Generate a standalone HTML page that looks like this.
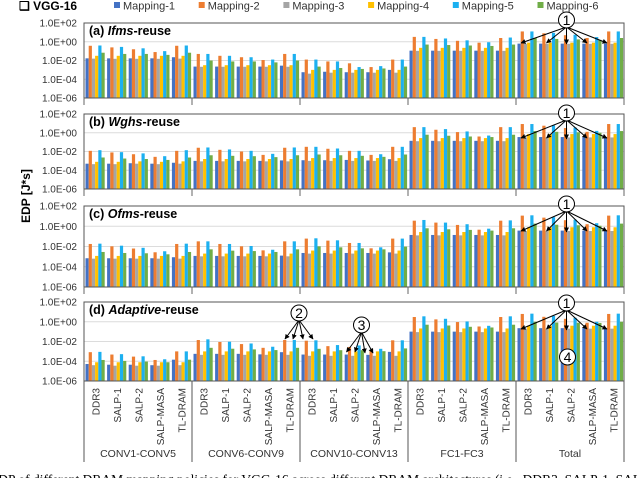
<!DOCTYPE html>
<html><head><meta charset="utf-8">
<style>
html,body{margin:0;padding:0;background:#fff;overflow:hidden}
body{width:640px;height:478px;position:relative;font-family:"Liberation Sans",sans-serif}
svg text{font-family:"Liberation Sans",sans-serif}
</style></head>
<body>
<svg id="chart" width="640" height="478" viewBox="0 0 640 478" xmlns="http://www.w3.org/2000/svg">
<g id="legend"></g>
<g id="panels"></g>
<g id="xaxis"></g>
<g id="annos"></g>
<text x="0" y="0" transform="translate(30,196) rotate(-90)" text-anchor="middle" font-size="12" font-weight="bold" fill="#000">EDP [J*s]</text>
<text x="19" y="10" font-size="12" font-weight="bold" fill="#000">❑ VGG-16</text>
<text x="-10" y="484" font-size="13.5" fill="#000" style="font-family:'Liberation Serif',serif">EDP of different DRAM mapping policies for VGG-16 across different DRAM architectures (i.e., DDR3, SALP-1, SALP-2, SALP-MASA</text>
</svg>
<script>
const NS="http://www.w3.org/2000/svg";
const groups=["CONV1-CONV5","CONV6-CONV9","CONV10-CONV13","FC1-FC3","Total"];
const archs=["DDR3","SALP-1","SALP-2","SALP-MASA","TL-DRAM"];
const mappings=["Mapping-1","Mapping-2","Mapping-3","Mapping-4","Mapping-5","Mapping-6"];
const colors=["#4472C4","#ED7D31","#A5A5A5","#FFC000","#1CB0F0","#70AD47"];
const tickLabels=["1.0E+02","1.0E+00","1.0E-02","1.0E-04","1.0E-06"];
const tickExps=[2,0,-2,-4,-6];
const panelTitles=["(a) |Ifms|-reuse","(b) |Wghs|-reuse","(c) |Ofms|-reuse","(d) |Adaptive|-reuse"];
// log10(EDP) values, 25 per mapping (5 groups x 5 archs)
const a_m1=[-1.77,-1.77,-1.77,-1.77,-1.65,-2.65,-2.65,-2.65,-2.65,-2.55,-3.25,-3.2,-3.25,-3.25,-3.0,-0.95,-0.95,-0.95,-0.95,-0.95,-0.2,-0.2,-0.2,-0.2,-0.2];
const a_m2=[-0.43,-0.6,-0.8,-1.1,-0.43,-1.3,-1.5,-1.65,-1.95,-1.3,-1.9,-2.1,-2.3,-2.7,-1.9,0.52,0.3,0.1,-0.1,0.4,1.1,0.9,0.7,0.4,1.1];
const a_m3=[-1.8,-1.82,-1.82,-1.82,-1.8,-2.67,-2.67,-2.67,-2.67,-2.67,-3.4,-3.3,-3.3,-3.3,-3.3,-0.97,-0.97,-0.97,-0.97,-0.97,-0.22,-0.22,-0.22,-0.22,-0.22];
const a_m4=[-1.5,-1.5,-1.5,-1.5,-1.5,-2.5,-2.5,-2.5,-2.5,-2.5,-3.0,-3.0,-3.0,-3.0,-3.0,-0.65,-0.65,-0.65,-0.65,-0.65,-0.1,-0.1,-0.1,-0.1,-0.1];
const a_m5=[-0.4,-0.55,-0.7,-1.0,-0.4,-1.3,-1.5,-1.65,-1.9,-1.3,-1.9,-2.1,-2.7,-2.6,-1.9,0.52,0.35,0.15,-0.05,0.45,1.1,0.95,0.75,0.5,1.1];
const a_m6=[-1.17,-1.3,-1.3,-1.4,-1.17,-2.0,-2.1,-2.1,-2.2,-2.0,-2.65,-2.8,-2.9,-2.85,-2.65,-0.3,-0.35,-0.4,-0.45,-0.3,0.4,0.3,0.25,0.2,0.4];
const b_m1=[-3.3,-3.3,-3.25,-3.3,-3.2,-3.0,-3.0,-3.0,-3.0,-2.95,-2.93,-2.93,-2.9,-2.96,-2.82,-0.86,-0.86,-0.86,-0.86,-0.86,-0.46,-0.46,-0.46,-0.46,-0.46];
const b_m2=[-1.93,-2.1,-2.29,-2.57,-1.93,-1.6,-1.82,-2.0,-2.36,-1.6,-1.5,-1.71,-1.93,-2.36,-1.5,0.6,0.32,0.07,-0.4,0.6,0.93,0.75,0.5,0.1,0.93];
const b_m3=[-3.35,-3.35,-3.3,-3.35,-3.3,-3.05,-3.05,-3.05,-3.05,-3.05,-3.0,-3.0,-3.0,-3.0,-3.0,-0.9,-0.9,-0.9,-0.9,-0.9,-0.5,-0.5,-0.5,-0.5,-0.5];
const b_m4=[-3.1,-3.1,-3.05,-3.1,-3.05,-2.8,-2.8,-2.8,-2.8,-2.8,-2.7,-2.7,-2.7,-2.7,-2.7,-0.57,-0.57,-0.57,-0.57,-0.57,-0.14,-0.14,-0.14,-0.14,-0.14];
const b_m5=[-1.86,-2.07,-2.2,-2.5,-1.86,-1.57,-1.78,-1.93,-2.25,-1.57,-1.5,-1.68,-1.93,-2.29,-1.5,0.6,0.39,0.14,-0.3,0.6,0.93,0.8,0.55,0.2,0.93];
const b_m6=[-2.64,-2.75,-2.8,-2.9,-2.64,-2.4,-2.46,-2.5,-2.6,-2.4,-2.32,-2.4,-2.46,-2.57,-2.32,-0.21,-0.32,-0.4,-0.46,-0.21,0.18,0.1,0.05,0.0,0.18];
const c_m1=[-3.16,-3.16,-3.16,-3.16,-3.06,-2.93,-2.93,-2.93,-2.93,-2.9,-2.64,-2.64,-2.64,-2.64,-2.58,-0.86,-0.86,-0.86,-0.86,-0.86,-0.43,-0.43,-0.43,-0.43,-0.43];
const c_m2=[-1.75,-1.98,-2.2,-2.57,-1.75,-1.49,-1.75,-1.98,-2.38,-1.49,-1.22,-1.42,-1.65,-2.18,-1.22,0.55,0.36,0.13,-0.34,0.55,1.05,0.85,0.6,0.2,1.05];
const c_m3=[-3.2,-3.2,-3.2,-3.2,-3.2,-2.97,-2.97,-2.97,-2.97,-2.97,-2.7,-2.7,-2.7,-2.7,-2.7,-0.9,-0.9,-0.9,-0.9,-0.9,-0.47,-0.47,-0.47,-0.47,-0.47];
const c_m4=[-2.93,-2.93,-2.93,-2.93,-2.93,-2.7,-2.7,-2.7,-2.7,-2.7,-2.4,-2.4,-2.4,-2.4,-2.4,-0.57,-0.57,-0.57,-0.57,-0.57,-0.1,-0.1,-0.1,-0.1,-0.1];
const c_m5=[-1.72,-1.92,-2.13,-2.47,-1.72,-1.49,-1.75,-1.95,-2.32,-1.49,-1.19,-1.39,-1.65,-2.08,-1.22,0.62,0.36,0.2,-0.24,0.58,1.08,0.9,0.65,0.3,1.08];
const c_m6=[-2.54,-2.64,-2.67,-2.77,-2.54,-2.28,-2.41,-2.45,-2.54,-2.28,-1.98,-2.08,-2.18,-2.28,-2.01,-0.2,-0.3,-0.36,-0.43,-0.2,0.26,0.15,0.1,0.05,0.26];
const d_m1=[-4.28,-4.35,-4.35,-4.4,-3.84,-3.25,-3.25,-3.25,-3.3,-3.08,-3.32,-3.32,-3.32,-3.35,-3.05,-1.0,-1.0,-1.0,-1.0,-1.0,-0.65,-0.65,-0.65,-0.65,-0.65];
const d_m2=[-3.08,-3.32,-3.53,-3.87,-3.0,-1.85,-2.05,-2.26,-2.64,-1.85,-1.92,-2.47,-2.55,-2.9,-1.88,0.48,0.24,-0.03,-0.48,0.48,0.79,0.5,0.3,-0.1,0.79];
const d_m3=[-4.4,-4.45,-4.45,-4.45,-4.4,-3.35,-3.35,-3.35,-3.35,-3.35,-3.45,-3.45,-3.45,-3.45,-3.45,-1.05,-1.05,-1.05,-1.05,-1.05,-0.7,-0.7,-0.7,-0.7,-0.7];
const d_m4=[-4.1,-4.1,-4.1,-4.1,-4.1,-3.0,-3.0,-3.0,-3.0,-3.0,-3.0,-3.0,-3.0,-3.0,-3.0,-0.68,-0.68,-0.68,-0.68,-0.68,-0.4,-0.4,-0.4,-0.4,-0.4];
const d_m5=[-3.05,-3.28,-3.5,-3.8,-3.0,-1.78,-2.02,-2.2,-2.53,-1.85,-1.88,-2.36,-2.4,-2.74,-1.88,0.55,0.3,0.03,-0.41,0.55,0.82,0.6,0.4,0.0,0.82];
const d_m6=[-3.87,-3.97,-4.03,-4.1,-3.84,-2.64,-2.73,-2.8,-2.87,-2.64,-2.74,-2.88,-2.88,-2.98,-2.7,-0.3,-0.38,-0.51,-0.58,-0.3,0.0,-0.08,-0.1,-0.12,0.0];
const panelData=[[a_m1,a_m2,a_m3,a_m4,a_m5,a_m6],[b_m1,b_m2,b_m3,b_m4,b_m5,b_m6],[c_m1,c_m2,c_m3,c_m4,c_m5,c_m6],[d_m1,d_m2,d_m3,d_m4,d_m5,d_m6]];

const PX0=84,PX1=624;
const panelTop=[23,114,206,302],panelBot=[98,189,287,381];
const slotW=(PX1-PX0)/25,barW=3.2;
function mk(tag,attrs,parent){const e=document.createElementNS(NS,tag);for(const k in attrs)e.setAttribute(k,attrs[k]);parent.appendChild(e);return e;}
function yScale(p,v){return panelTop[p]+(2-v)/8*(panelBot[p]-panelTop[p]);}
function xSlot(i){return PX0+i*slotW;}

// legend
const lg=document.getElementById('legend');
mappings.forEach((m,i)=>{
  const g=mk('g',{},lg);
  
  
  const x=114+i*84.7;
  mk('rect',{x:x,y:2,width:6,height:6,fill:colors[i]},g);
  mk('text',{x:x+9,y:9.5,'font-size':'11',fill:'#333'},g).textContent=m;
});

const pg=document.getElementById('panels');
panelData.forEach((series,p)=>{
  const g=mk('g',{},pg);
  
  
  // gridlines and ticks
  tickExps.forEach((e,k)=>{
    const y=yScale(p,e);
    if(k>0&&k<4){const l=mk('line',{x1:PX0,x2:PX1,y1:y,y2:y,stroke:'#dcdcdc','stroke-width':1},g);
      }
    const t=mk('text',{x:77,y:y+3.5,'text-anchor':'end','font-size':'10',fill:'#333'},g);
    
    
    t.textContent=tickLabels[k];
  });
  // bars
  series.forEach((vals,m)=>{
    vals.forEach((v,i)=>{
      const x=xSlot(i)+1.5+m*barW;
      const y=yScale(p,v);
      const r=mk('rect',{x:x.toFixed(2),y:y.toFixed(2),width:barW,height:(panelBot[p]-y).toFixed(2),fill:colors[m]},g);
      
      
    });
  });
  // frame
  const fr=mk('rect',{x:PX0,y:panelTop[p],width:PX1-PX0,height:panelBot[p]-panelTop[p],fill:'none',stroke:'#555','stroke-width':1},g);
  
  
  // group separator ticks below axis (panels a-c)
  if(p<3){for(let k=0;k<=5;k++){const x=PX0+k*108;mk('line',{x1:x,x2:x,y1:panelBot[p],y2:panelBot[p]+7,stroke:'#666','stroke-width':1},g);}}
  // title
  const parts=panelTitles[p].split('|');
  const t=mk('text',{x:89,y:panelTop[p]+12,'font-size':'12.5','font-weight':'bold',fill:'#000'},g);
  
  
  mk('tspan',{},t).textContent=parts[0];
  mk('tspan',{'font-style':'italic'},t).textContent=parts[1];
  mk('tspan',{},t).textContent=parts[2];
});

// x-axis labels
const xa=document.getElementById('xaxis');
for(let k=0;k<=5;k++){const x=PX0+k*108;mk('line',{x1:x,x2:x,y1:381,y2:462,stroke:'#555','stroke-width':1},xa);}
groups.forEach((gname,gi)=>{
  archs.forEach((a,ai)=>{
    const cx=xSlot(gi*5+ai)+slotW/2+1;
    const t=mk('text',{transform:'translate('+(cx+3.5).toFixed(1)+',388) rotate(-90)','text-anchor':'end','font-size':'10',fill:'#333'},xa);
    
    
    t.textContent=a;
  });
  const t=mk('text',{x:PX0+gi*108+54,y:457,'text-anchor':'middle','font-size':'10.5',fill:'#333'},xa);
  
  
  t.textContent=gname;
});

// annotations
const an=document.getElementById('annos');
mk('defs',{},an).innerHTML='<marker id="ah" viewBox="0 0 10 10" refX="9" refY="5" markerWidth="5" markerHeight="5" orient="auto"><path d="M0,0 L10,5 L0,10 z" fill="#000"/></marker>';
function callout(num,cx,cy,targets){
  const g=mk('g',{},an);
  
  
  targets.forEach(t=>mk('line',{x1:cx,y1:cy+7,x2:t[0],y2:t[1],stroke:'#000','stroke-width':1,'marker-end':'url(#ah)'},g));
  mk('circle',{cx:cx,cy:cy,r:8,fill:'#fff',stroke:'#000','stroke-width':1},g);
  mk('text',{x:cx,y:cy+5,'text-anchor':'middle','font-size':'14',fill:'#000'},g).textContent=num;
}
[[20,43],[113,138],[204,231],[303,329]].forEach(c=>{
  callout('1',566.5,c[0],[[521,c[1]],[546.5,c[1]],[566.5,c[1]+1],[587,c[1]],[607,c[1]]]);
});
callout('2',299,313,[[285,339],[293,339],[303,339],[313,339]]);
callout('3',361.5,325,[[346.5,352],[355,352],[365,353],[373,353]]);
callout('4',567.5,357,[]);
</script>
</body></html>
